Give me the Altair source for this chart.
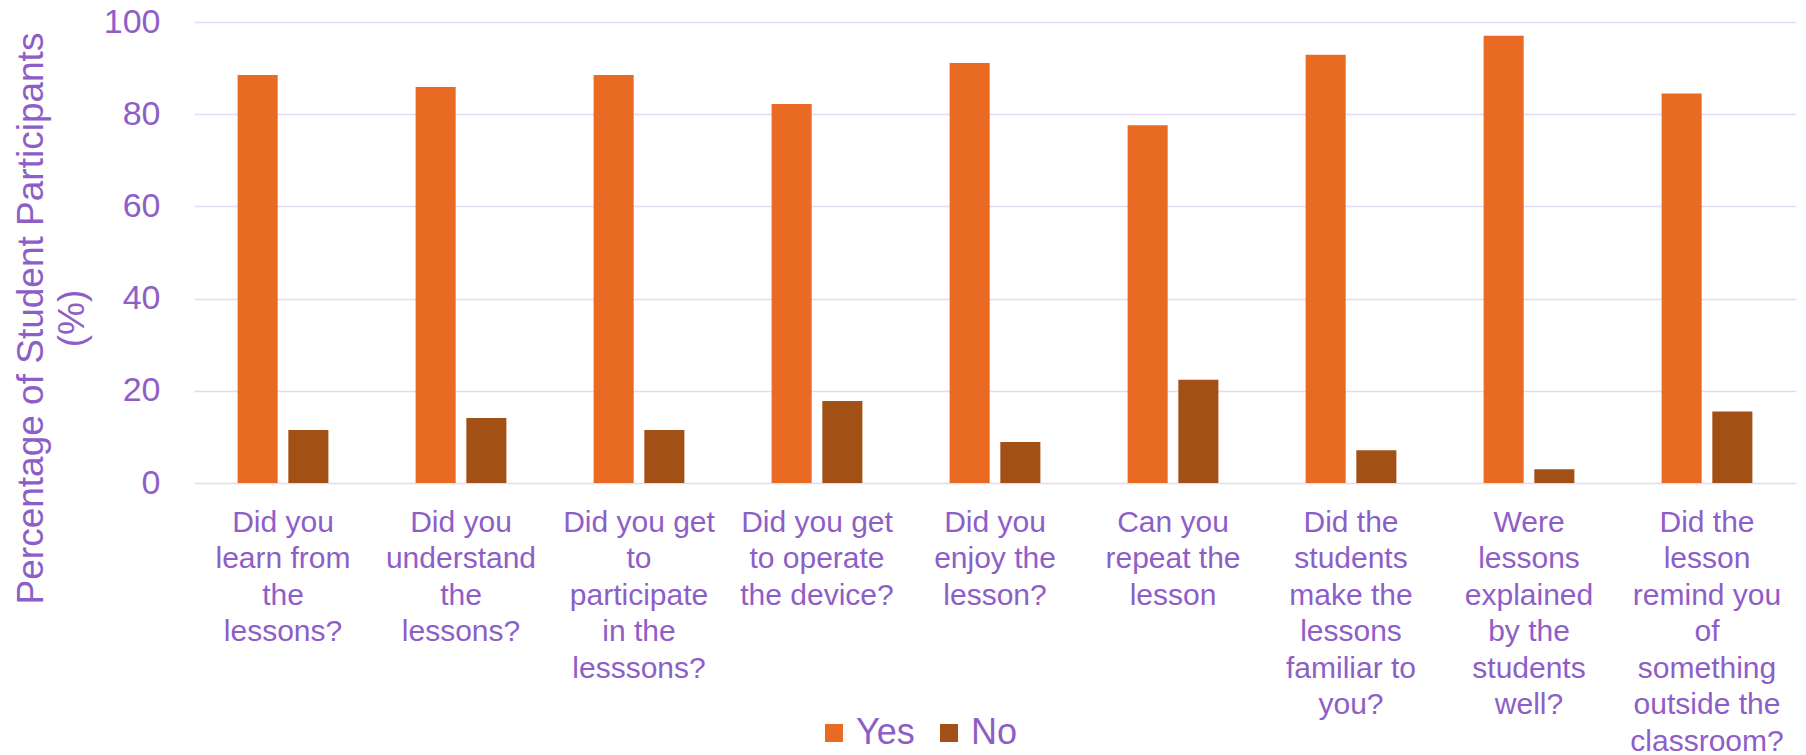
import altair as alt
import pandas as pd

questions = [
    "Did you\nlearn from\nthe\nlessons?",
    "Did you\nunderstand\nthe\nlessons?",
    "Did you get\nto\nparticipate\nin the\nlesssons?",
    "Did you get\nto operate\nthe device?",
    "Did you\nenjoy the\nlesson?",
    "Can you\nrepeat the\nlesson",
    "Did the\nstudents\nmake the\nlessons\nfamiliar to\nyou?",
    "Were\nlessons\nexplained\nby the\nstudents\nwell?",
    "Did the\nlesson\nremind you\nof\nsomething\noutside the\nclassroom?",
]
yes_values = [88.5, 85.9, 88.5, 82.2, 91.1, 77.6, 92.9, 97.0, 84.5]
no_values = [11.5, 14.1, 11.5, 17.8, 8.9, 22.4, 7.1, 3.0, 15.5]
series = ["Yes", "No"]
colors = ["#E96A22", "#A35016"]
y_ticks = [0, 20, 40, 60, 80, 100]

rows = []
for q, y, n in zip(questions, yes_values, no_values):
    rows.append({"question": q, "answer": "Yes", "value": y})
    rows.append({"question": q, "answer": "No", "value": n})
df = pd.DataFrame(rows)

TEXT = "#8E5EC8"
GRID = "#E3DBF3"
FONT = "Liberation Sans"

chart = alt.Chart(df).mark_bar().encode(
    x=alt.X(
        "question:N",
        sort=questions,
        scale=alt.Scale(paddingInner=0.49, paddingOuter=0.245),
        axis=alt.Axis(
            title=None,
            labelAngle=0,
            labelExpr="split(datum.label, '\\n')",
            labelFontSize=30,
            labelLineHeight=36.5,
            labelColor=TEXT,
            labelFont=FONT,
            labelBaseline="top",
            labelPadding=24,
            ticks=False,
            tickSize=0,
            domain=False,
            grid=False,
            labelLimit=300,
        ),
    ),
    xOffset=alt.XOffset(
        "answer:N",
        sort=series,
        scale=alt.Scale(paddingInner=0.21, paddingOuter=0),
    ),
    y=alt.Y(
        "value:Q",
        scale=alt.Scale(domain=[0, 100], nice=False),
        axis=alt.Axis(
            values=y_ticks,
            title=["Percentage of Student Participants", "(%)"],
            titleFontSize=37,
            titleFont=FONT,
            titleFontWeight="normal",
            titleColor=TEXT,
            titleLineHeight=41,
            titleAngle=270,
            titleAlign="center",
            titleBaseline="alphabetic",
            titleX=-152,
            titleY=296,
            labelFontSize=34,
            labelFont=FONT,
            labelColor=TEXT,
            labelPadding=34,
            ticks=False,
            tickSize=0,
            domain=False,
            grid=True,
            gridColor=GRID,
            gridWidth=1.5,
        ),
    ),
    color=alt.Color(
        "answer:N",
        sort=series,
        scale=alt.Scale(domain=series, range=colors),
        legend=alt.Legend(
            title=None,
            orient="none",
            direction="horizontal",
            legendX=622,
            legendY=693,
            symbolType="square",
            symbolSize=324,
            symbolStrokeWidth=0,
            labelFontSize=36,
            labelFont=FONT,
            labelColor=TEXT,
            labelOffset=4,
            columnPadding=16,
        ),
    ),
).properties(
    width=1602,
    height=461,
    autosize=alt.AutoSizeParams(type="none"),
    padding={"left": 194, "top": 22, "right": 10, "bottom": 272},
    background="white",
).configure_view(stroke=None)

chart.save("out.html", embed_options={"renderer": "svg", "actions": False})
